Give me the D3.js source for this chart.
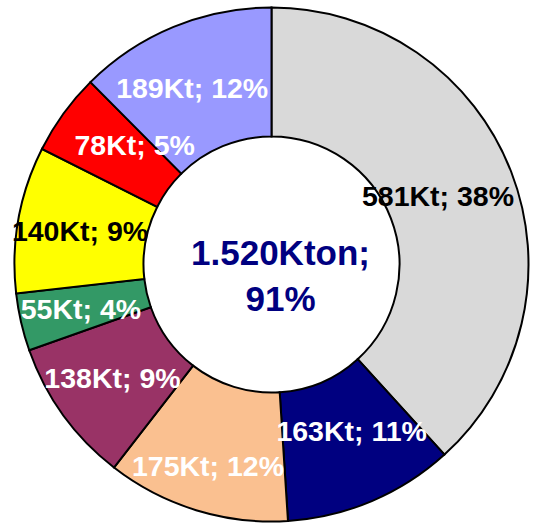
<!DOCTYPE html>
<meta charset="utf-8">
<style>
body { margin: 0; background: #fff; }
text { font-family: "Liberation Sans", Arial, sans-serif; font-weight: bold; }
</style>
<svg width="538" height="527"></svg>
<script src="https://d3js.org/d3.v7.min.js"></script>
<script>
// slices clockwise from 12 o'clock
var values = [581, 163, 175, 138, 55, 140, 78, 189]
var labels = ["581Kt; 38%", "163Kt; 11%", "175Kt; 12%", "138Kt; 9%", "55Kt; 4%", "140Kt; 9%", "78Kt; 5%", "189Kt; 12%"]
var colors = ["#d9d9d9", "#000080", "#fac090", "#993366", "#339966", "#ffff00", "#ff0000", "#9999ff"]
var textColors = ["#000", "#fff", "#fff", "#fff", "#fff", "#000", "#fff", "#fff"]
var centerLines = ["1.520Kton;", "91%"]
//small label nudges away from the ring centroid, as in the original
var nudgeX = [-13, 5, -7, -3, -3, -2, 19, -6]
var nudgeY = [1, -11, 17, 1, 1, 0, -7, 1]

var svg = d3.select("svg"),
    cx = 271.5, cy = 264.5,
    outerR = 257, innerR = 128

var g = svg.append("g").attr("transform", "translate(" + cx + "," + cy + ")")

var pie = d3.pie().sort(null).value(function(d) { return d })
var arcs = pie(values)
var arc = d3.arc().innerRadius(innerR).outerRadius(outerR)

g.selectAll("path").data(arcs)
  .enter().append("path")
  .attr("d", arc)
  .attr("fill", function(d, i) { return colors[i] })
  .attr("stroke", "#000")
  .attr("stroke-width", 2)

//labels sit on the middle of the ring
g.selectAll("text.lbl").data(arcs)
  .enter().append("text")
  .attr("class", "lbl")
  .attr("x", function(d, i) { return arc.centroid(d)[0] + nudgeX[i] })
  .attr("y", function(d, i) { return arc.centroid(d)[1] + nudgeY[i] })
  .attr("dy", "0.36em")
  .attr("text-anchor", "middle")
  .attr("font-size", 28.5)
  .attr("fill", function(d, i) { return textColors[i] })
  .text(function(d, i) { return labels[i] })

g.selectAll("text.ctr").data(centerLines)
  .enter().append("text")
  .attr("class", "ctr")
  .attr("x", 9)
  .attr("y", function(d, i) { return 0.5 + i * 46 })
  .attr("text-anchor", "middle")
  .attr("font-size", 35)
  .attr("fill", "#000080")
  .text(function(d) { return d })
</script>
